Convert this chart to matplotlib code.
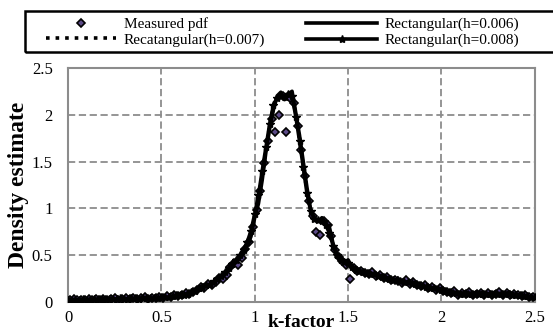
import matplotlib

matplotlib.use("Agg")
import matplotlib.pyplot as plt
from matplotlib.patches import Rectangle
import numpy as np

# k-factor grid for the kernel estimates (step 0.02) and for the measured pdf (offset by 0.01)
k_fit = np.round(np.arange(0, 126) * 0.02, 2)
k_meas = np.round(0.01 + np.arange(0, 125) * 0.02, 2)

rect_006 = [
    0.02, 0.02, 0.02, 0.02, 0.02, 0.02, 0.03, 0.02, 0.02, 0.03,
    0.03, 0.02, 0.03, 0.03, 0.03, 0.03, 0.04, 0.03, 0.03, 0.04,
    0.03, 0.04, 0.04, 0.03, 0.04, 0.05, 0.04, 0.05, 0.06, 0.06,
    0.07, 0.08, 0.09, 0.10, 0.11, 0.14, 0.17, 0.18, 0.17, 0.20,
    0.24, 0.27, 0.31, 0.35, 0.40, 0.43, 0.47, 0.53, 0.60, 0.70,
    0.90, 1.05, 1.30, 1.60, 1.85, 2.05, 2.20, 2.24, 2.16, 2.22,
    2.25, 2.02, 1.78, 1.50, 1.22, 0.98, 0.88, 0.86, 0.90, 0.84,
    0.80, 0.62, 0.52, 0.46, 0.42, 0.45, 0.38, 0.34, 0.34, 0.32,
    0.32, 0.31, 0.30, 0.29, 0.28, 0.27, 0.25, 0.24, 0.23, 0.22,
    0.22, 0.21, 0.20, 0.21, 0.18, 0.17, 0.16, 0.16, 0.15, 0.14,
    0.14, 0.12, 0.10, 0.11, 0.09, 0.10, 0.09, 0.10, 0.08, 0.10,
    0.09, 0.10, 0.08, 0.09, 0.10, 0.09, 0.08, 0.09, 0.10, 0.09,
    0.08, 0.07, 0.06, 0.06, 0.05, 0.05,
]
rect_007 = [
    0.02, 0.02, 0.02, 0.02, 0.02, 0.03, 0.02, 0.02, 0.03, 0.03,
    0.02, 0.03, 0.03, 0.03, 0.03, 0.04, 0.03, 0.03, 0.04, 0.03,
    0.04, 0.04, 0.03, 0.04, 0.04, 0.04, 0.05, 0.05, 0.06, 0.07,
    0.07, 0.08, 0.09, 0.10, 0.12, 0.15, 0.17, 0.17, 0.18, 0.21,
    0.25, 0.28, 0.32, 0.36, 0.40, 0.44, 0.49, 0.55, 0.62, 0.74,
    0.92, 1.10, 1.35, 1.62, 1.88, 2.08, 2.19, 2.21, 2.18, 2.23,
    2.22, 2.00, 1.74, 1.46, 1.18, 0.96, 0.88, 0.88, 0.89, 0.83,
    0.76, 0.60, 0.50, 0.45, 0.43, 0.43, 0.37, 0.34, 0.33, 0.32,
    0.31, 0.31, 0.30, 0.29, 0.27, 0.26, 0.25, 0.24, 0.23, 0.22,
    0.21, 0.21, 0.20, 0.20, 0.18, 0.17, 0.16, 0.15, 0.15, 0.14,
    0.13, 0.12, 0.11, 0.10, 0.10, 0.10, 0.09, 0.09, 0.09, 0.09,
    0.09, 0.09, 0.09, 0.09, 0.09, 0.09, 0.09, 0.09, 0.09, 0.08,
    0.08, 0.07, 0.06, 0.06, 0.05, 0.05,
]
rect_008 = [
    0.02, 0.02, 0.02, 0.02, 0.03, 0.02, 0.02, 0.03, 0.03, 0.03,
    0.03, 0.03, 0.03, 0.03, 0.04, 0.03, 0.03, 0.04, 0.04, 0.03,
    0.04, 0.04, 0.04, 0.04, 0.04, 0.05, 0.05, 0.05, 0.06, 0.07,
    0.08, 0.08, 0.09, 0.11, 0.12, 0.15, 0.16, 0.18, 0.19, 0.22,
    0.25, 0.28, 0.32, 0.36, 0.41, 0.45, 0.50, 0.56, 0.64, 0.76,
    0.94, 1.14, 1.40, 1.65, 1.90, 2.10, 2.18, 2.20, 2.19, 2.22,
    2.20, 1.98, 1.72, 1.44, 1.16, 0.97, 0.89, 0.88, 0.87, 0.82,
    0.74, 0.60, 0.50, 0.45, 0.43, 0.42, 0.37, 0.34, 0.33, 0.32,
    0.31, 0.30, 0.30, 0.28, 0.27, 0.26, 0.25, 0.24, 0.23, 0.22,
    0.21, 0.21, 0.20, 0.19, 0.18, 0.17, 0.16, 0.15, 0.15, 0.14,
    0.13, 0.12, 0.11, 0.10, 0.10, 0.09, 0.09, 0.09, 0.09, 0.09,
    0.09, 0.09, 0.09, 0.09, 0.09, 0.09, 0.09, 0.09, 0.09, 0.08,
    0.08, 0.07, 0.06, 0.06, 0.05, 0.05,
]
measured = [
    0.02, 0.03, 0.02, 0.02, 0.02, 0.03, 0.02, 0.03, 0.02, 0.03,
    0.02, 0.03, 0.04, 0.02, 0.03, 0.04, 0.03, 0.04, 0.03, 0.04,
    0.05, 0.03, 0.04, 0.04, 0.05, 0.04, 0.06, 0.05, 0.07, 0.06,
    0.08, 0.10, 0.09, 0.11, 0.13, 0.16, 0.15, 0.19, 0.18, 0.21,
    0.26, 0.25, 0.29, 0.37, 0.42, 0.40, 0.47, 0.57, 0.64, 0.80,
    0.98, 1.18, 1.48, 1.72, 1.95, 1.82, 2.00, 2.20, 1.82, 2.18,
    2.12, 1.88, 1.62, 1.35, 1.08, 0.92, 0.75, 0.72, 0.86, 0.82,
    0.70, 0.55, 0.48, 0.44, 0.40, 0.25, 0.36, 0.33, 0.33, 0.31,
    0.30, 0.32, 0.28, 0.29, 0.26, 0.27, 0.24, 0.23, 0.22, 0.20,
    0.23, 0.19, 0.21, 0.18, 0.17, 0.18, 0.15, 0.16, 0.13, 0.15,
    0.12, 0.11, 0.10, 0.12, 0.08, 0.10, 0.09, 0.11, 0.08, 0.09,
    0.10, 0.08, 0.10, 0.07, 0.09, 0.11, 0.08, 0.10, 0.08, 0.09,
    0.07, 0.06, 0.07, 0.05, 0.05,
]

x_ticks = [0, 0.5, 1, 1.5, 2, 2.5]
y_ticks = [0, 0.5, 1, 1.5, 2, 2.5]
tick_labels = ["0", "0.5", "1", "1.5", "2", "2.5"]

plt.rcParams["font.family"] = ["Liberation Serif", "DejaVu Serif"]

fig = plt.figure(figsize=(5.53, 3.35), dpi=100)
ax = fig.add_axes([0.123, 0.0985, 0.844, 0.699])

ax.plot(k_meas, measured, "D", ms=4, mfc="#5b4a86", mec="black", mew=1.2,
        ls="none", label="Measured pdf", zorder=3)
ax.plot(k_fit, rect_006, "-", color="black", lw=2.6, label="Rectangular(h=0.006)", zorder=4)
ax.plot(k_fit, rect_007, ":", color="black", lw=2.6, label="Recatangular(h=0.007)", zorder=4)
ax.plot(k_fit, rect_008, "-", color="black", lw=2.6, marker="*", ms=6,
        label="Rectangular(h=0.008)", zorder=4)

ax.set_xlim(0, 2.5)
ax.set_ylim(0, 2.5)
ax.set_xticks(x_ticks)
ax.set_xticklabels(tick_labels)
ax.set_yticks(y_ticks)
ax.set_yticklabels(tick_labels)
ax.tick_params(axis="both", length=0, labelsize=12)
ax.tick_params(axis="x", pad=6)
ax.tick_params(axis="y", pad=11)
ax.grid(True, color="#8c8c8c", ls=(0, (4, 2)), lw=1.3)
ax.set_axisbelow(True)
for s in ax.spines.values():
    s.set_color("#8c8c8c")
    s.set_linewidth(1.5)

ax.set_ylabel("Density estimate", fontsize=17, fontweight="bold", labelpad=2)
ax.set_xlabel("k-factor", fontsize=14, fontweight="bold", labelpad=-9)

# legend: row 1 = measured / h=0.006, row 2 = h=0.007 / h=0.008
h, l = ax.get_legend_handles_labels()
order = [0, 2, 1, 3]
leg = fig.legend([h[i] for i in order], [l[i] for i in order], ncol=2,
                 loc="upper left", bbox_to_anchor=(0.083, 0.948),
                 fontsize=11, handlelength=4.6, frameon=False,
                 borderaxespad=0, borderpad=0, handletextpad=0.5,
                 labelspacing=0.12, columnspacing=2.7)
# the box in the original runs off the right edge of the picture
fig.patches.append(Rectangle((25 / 553, 1 - 52 / 335), 540 / 553, 41 / 335,
                             transform=fig.transFigure, fill=False,
                             edgecolor="black", lw=1.8))

fig.savefig("out.png", dpi=100)
